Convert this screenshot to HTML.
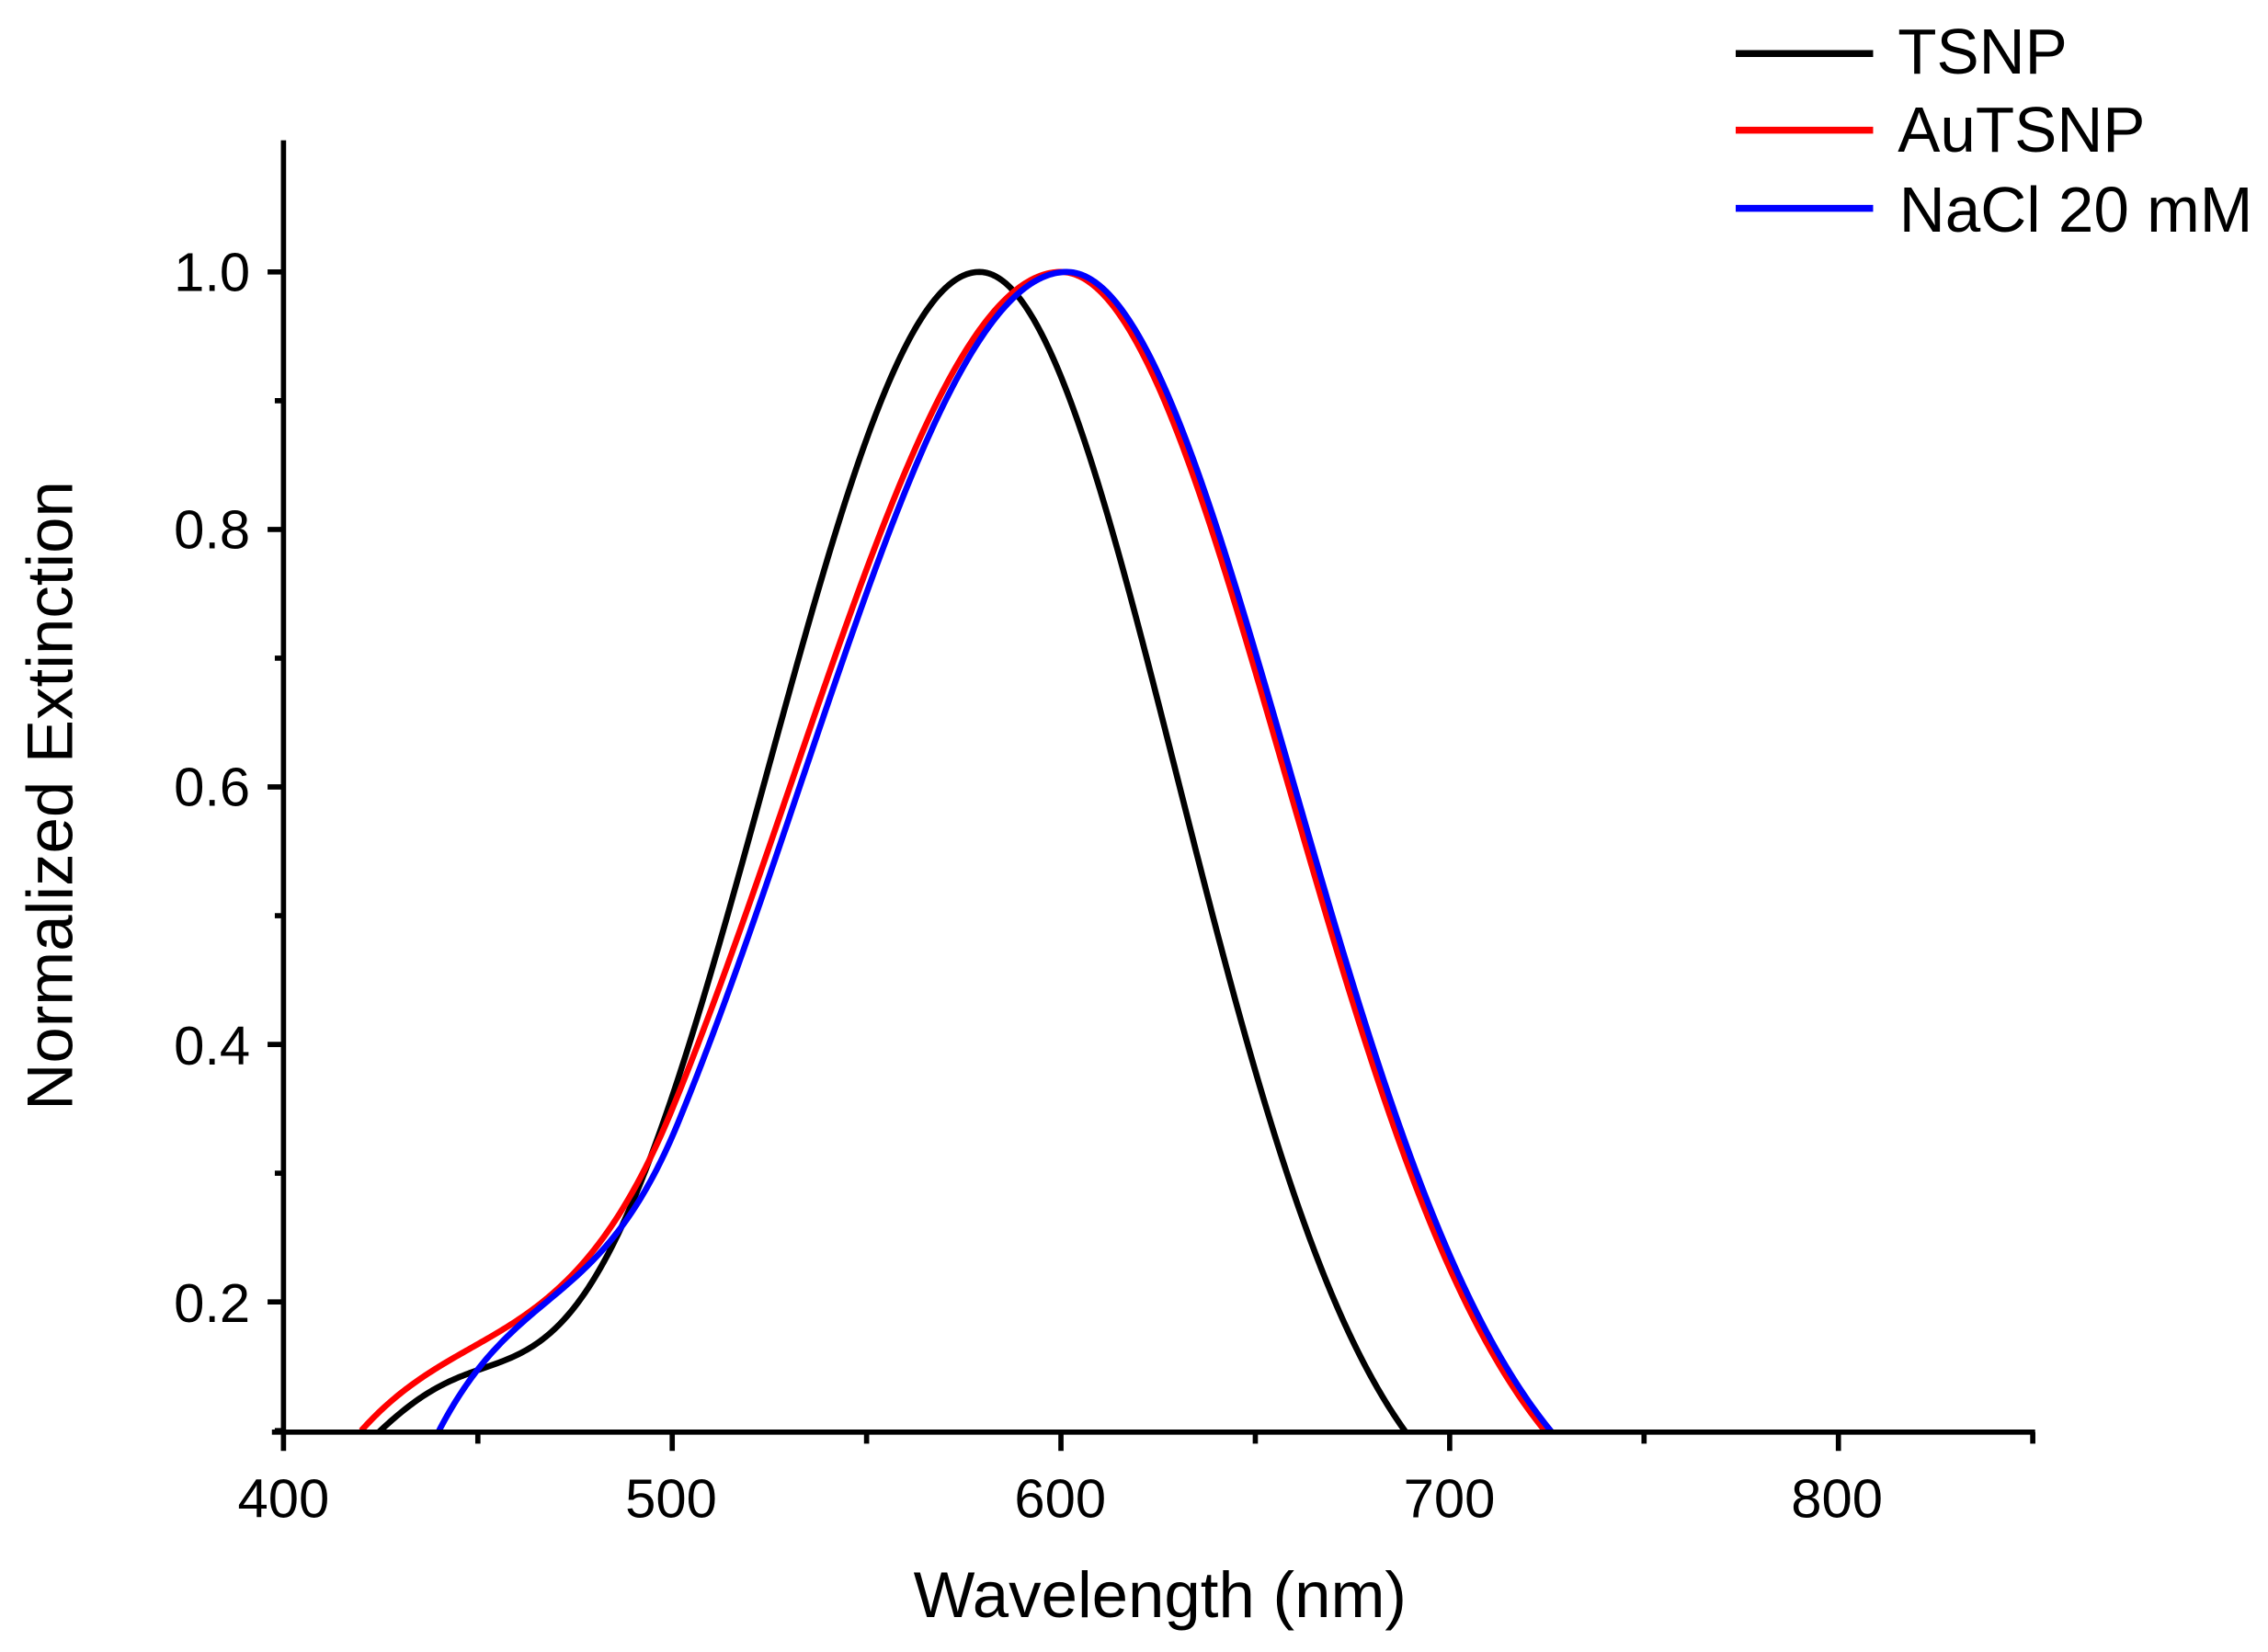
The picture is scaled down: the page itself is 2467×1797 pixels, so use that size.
<!DOCTYPE html>
<html><head><meta charset="utf-8"><style>html,body{margin:0;padding:0;background:#fff}svg{display:block}</style></head>
<body>
<svg id="s" width="2467" height="1797" viewBox="0 0 1568 1142" preserveAspectRatio="none" xmlns="http://www.w3.org/2000/svg" font-family="Liberation Sans, Arial, sans-serif">
<rect width="1568" height="1142" fill="#fff"/>
<defs><clipPath id="cp"><rect x="196" y="90" width="1220" height="900"/></clipPath></defs>
<g id="curves" fill="none" stroke-width="4.2" stroke-linejoin="round" clip-path="url(#cp)"></g>
<g stroke="#000" stroke-width="3.6" fill="none">
<line x1="196" y1="97" x2="196" y2="991"/>
<line x1="188" y1="990" x2="1407" y2="990"/>
<path id="ticks"/>
</g>
<g font-size="38" text-anchor="end" fill="#000">
<text x="173" y="201">1.0</text>
<text x="173" y="379">0.8</text>
<text x="173" y="557">0.6</text>
<text x="173" y="736">0.4</text>
<text x="173" y="914">0.2</text>
</g>
<g font-size="38" text-anchor="middle" fill="#000">
<text x="196" y="1049">400</text>
<text x="464" y="1049">500</text>
<text x="733" y="1049">600</text>
<text x="1002" y="1049">700</text>
<text x="1270" y="1049">800</text>
</g>
<text x="802" y="1118" font-size="45" text-anchor="middle">Wavelength (nm)</text>
<text transform="translate(50,550) rotate(-90)" font-size="45" text-anchor="middle">Normalized Extinction</text>
<g stroke-width="4.8">
<line x1="1200" y1="37" x2="1295" y2="37" stroke="#000"/>
<line x1="1200" y1="90" x2="1295" y2="90" stroke="#f00"/>
<line x1="1200" y1="144" x2="1295" y2="144" stroke="#00f"/>
</g>
<g font-size="44" fill="#000">
<text x="1312" y="51">TSNP</text>
<text x="1312" y="105">AuTSNP</text>
<text x="1313" y="160">NaCl 20 mM</text>
</g>
</svg>
<script>
var X=function(n){return 196+(n-400)*2.6875;};
var Y=function(v){return 188+(1-v)*890;};
var t="";
for(var n=400;n<=850;n+=50){var maj=(n%100==0);t+="M"+X(n)+" 990V"+(maj?1003:998);}
for(var k=1;k<=10;k++){var v=0.1*k;var maj=(k%2==0);t+="M196 "+Y(v)+"H"+(maj?185:190);}
document.getElementById("ticks").setAttribute("d",t);
function G(d,s){return Math.exp(-d*d/(2*s*s));}
function H(x0,y0,m0,x1,y1,m1,x){var h=x1-x0,u=(x-x0)/h,u2=u*u,u3=u2*u;
return (2*u3-3*u2+1)*y0+(u3-2*u2+u)*h*m0+(-2*u3+3*u2)*y1+(u3-u2)*h*m1;}
function tsnp(n){if(n>=579)return G(n-579,51);var d=579-n;return G(d,55)+0.1*G(n-440,25)*(1-G(d,60));}
function red(n){if(n>=600)return G(n-600,58);if(n>=500)return G(600-n,69);
var y1=G(100,69),m1=y1*100/(69*69);return H(420,0.1,0.0034,500,y1,m1,n);}
function blue(n){if(n>=601.5)return G(n-601.5,58);if(n>=501.5)return G(601.5-n,68);
var y1=G(100,68),m1=y1*100/(68*68);return H(440,0.1,0.0058,501.5,y1,m1,n);}
var S=[["#000",tsnp],["#f00",red],["#00f",blue]];
var g=document.getElementById("curves");
S.forEach(function(c){var pts=[];var lo=c[0]=="#f00"?420:(c[0]=="#00f"?440:400);
for(var n=lo;n<=760;n+=0.5){var v=c[1](n);if(v>=0.095)pts.push(X(n).toFixed(2)+","+Y(v).toFixed(2));}
var e=document.createElementNS("http://www.w3.org/2000/svg","polyline");e.setAttribute("points",pts.join(" "));e.setAttribute("stroke",c[0]);g.appendChild(e);});
</script>
</body></html>
